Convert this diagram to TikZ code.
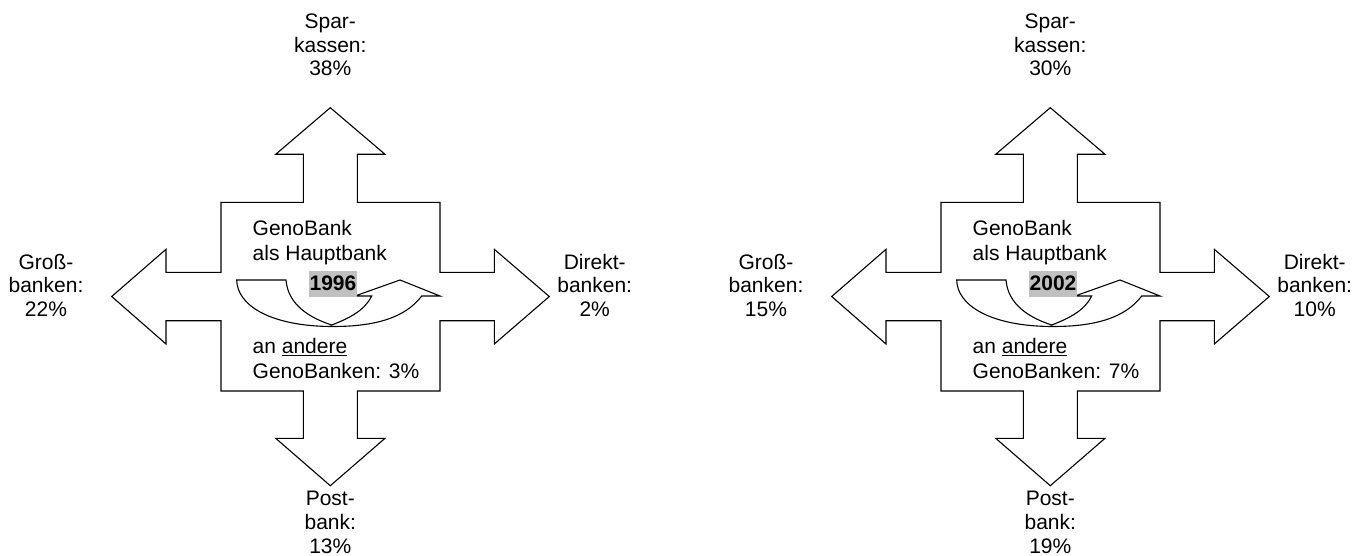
\documentclass[tikz,border=0pt]{standalone}
\usepackage{fontspec}
\setmainfont{Liberation Sans}
\definecolor{yeargray}{RGB}{192,192,192}
\tikzset{
  outline/.style={draw=black, line width=1.1pt, fill=white, line join=miter},
  lbl/.style={anchor=base, inner sep=0pt, font=\fontsize{21}{23.8}\selectfont},
  innerlbl/.style={anchor=base west, inner sep=0pt, font=\fontsize{21}{25}\selectfont},
  yearbox/.style={fill=yeargray, inner sep=0pt, minimum width=48pt, minimum height=26pt, font=\fontsize{21}{24}\selectfont\bfseries},
}
\newcommand\genocross[8]{%
\begin{scope}[xshift=#1pt]
  \draw[outline] (303.3,202.3) -- (303.3,154.3) -- (275.7,154.3) -- (330.3,107.7) -- (385,154.3) -- (357.3,154.3) -- (357.3,202.3)
    -- (440,202.3) -- (440,272.3) -- (494.3,272.3) -- (494.3,249.3) -- (549.3,296.5) -- (494.3,344) -- (494.3,320.7) -- (440,320.7)
    -- (440,391) -- (357.3,391) -- (357.3,438.3) -- (385,438.3) -- (330.3,485.7) -- (275.7,438.3) -- (303.3,438.3) -- (303.3,391)
    -- (221,391) -- (221,320.7) -- (166,320.7) -- (166,344) -- (111.7,296.5) -- (166,249.3) -- (166,272.3) -- (221,272.3)
    -- (221,202.3) -- cycle;
  \draw[outline] (236.7,280) -- (286,280) .. controls (288,305) and (310,318) .. (331.7,325)
    .. controls (350,318) and (365,310) .. (371.7,296) -- (355,296) -- (400,280) -- (440,296) -- (421.7,296)
    .. controls (405,318) and (375,326.5) .. (333,326.5) .. controls (270,326.5) and (237,305) .. (236.7,280) -- cycle;
  \node[yearbox] (#8year) at (333,283.7) {#7};
  \node[lbl] (#8top) at (330.3,28.3) {\begin{tabular}[t]{@{}c@{}}Spar-\\kassen:\\#2\end{tabular}};
  \node[lbl] (#8left) at (46,269) {\begin{tabular}[t]{@{}c@{}}Groß-\\banken:\\#3\end{tabular}};
  \node[lbl] (#8right) at (594.7,269) {\begin{tabular}[t]{@{}c@{}}Direkt-\\banken:\\#4\end{tabular}};
  \node[lbl] (#8bottom) at (330.3,505.8) {\begin{tabular}[t]{@{}c@{}}Post-\\bank:\\#5\end{tabular}};
  \node[innerlbl] (#8main) at (252.5,235.7) {\begin{tabular}[t]{@{}l@{}}GenoBank\\als Hauptbank\end{tabular}};
  \node[innerlbl] (#8other) at (252.5,353.3) {\begin{tabular}[t]{@{}l@{}}an \underline{andere}\\GenoBanken: #6\end{tabular}};
\end{scope}}
\begin{document}
\begin{tikzpicture}[x=1pt, y=-1pt]
  \useasboundingbox (0,0) rectangle (1367,556);
  \genocross{0}{38\%}{22\%}{2\%}{13\%}{3\%}{1996}{a}
  \genocross{720}{30\%}{15\%}{10\%}{19\%}{7\%}{2002}{b}
\end{tikzpicture}
\end{document}
